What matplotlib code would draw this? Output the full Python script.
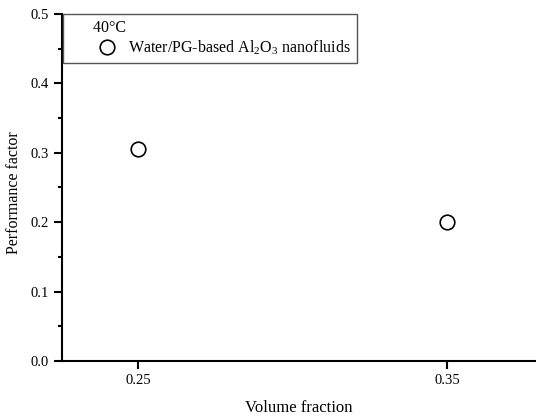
import matplotlib
matplotlib.use('Agg')
from matplotlib import pyplot as plt
from matplotlib.ticker import MultipleLocator

volume_fraction = [0.25, 0.35]
performance = [0.305, 0.20]
series_label = 'Water/PG-based Al$_2$O$_3$ nanofluids'
legend_title = '40\u00b0C'

plt.rcParams['font.family'] = ['Liberation Serif', 'DejaVu Serif']
plt.rcParams['mathtext.fontset'] = 'custom'
plt.rcParams['mathtext.rm'] = 'Liberation Serif'

fig = plt.figure(figsize=(5.36, 4.17), dpi=100)
ax = fig.add_axes([62/536, 56/417, 474/536, 347/417])

ax.plot(volume_fraction, performance, 'o', mfc='white', mec='black',
        mew=1.2, ms=10.5, label=series_label)

ax.set_xlim(0.2254, 0.3788)
ax.set_ylim(0, 0.5)
ax.set_xticks(volume_fraction)
ax.set_xticklabels(['0.25', '0.35'])
ax.yaxis.set_major_locator(MultipleLocator(0.1))
ax.yaxis.set_minor_locator(MultipleLocator(0.05))
ax.yaxis.set_major_formatter(plt.FormatStrFormatter('%.1f'))

for s in ['top', 'right']:
    ax.spines[s].set_visible(False)
for s in ['left', 'bottom']:
    ax.spines[s].set_linewidth(1.5)
ax.tick_params(which='major', direction='out', length=6, width=1.5, labelsize=10.5)
ax.tick_params(which='minor', direction='out', length=3, width=1.5)

ax.set_xlabel('Volume fraction', fontsize=12, labelpad=9)
ax.set_ylabel('Performance factor', fontsize=11.5)
ax.yaxis.set_label_coords(-0.084, 0.484)

# title indented with spaces, handle widened so the marker sits under the title
leg = ax.legend(title='      ' + legend_title, loc='upper left',
                bbox_to_anchor=(0.002, 1.0), frameon=True, fancybox=False,
                edgecolor='#555555', fontsize=11.5, title_fontsize=11.5,
                borderaxespad=0, borderpad=0.35, handlelength=4.8,
                handletextpad=-1.05, labelspacing=0.2, alignment='left',
                framealpha=1)
leg.get_frame().set_linewidth(1.0)

plt.savefig('out.png', dpi=100)
